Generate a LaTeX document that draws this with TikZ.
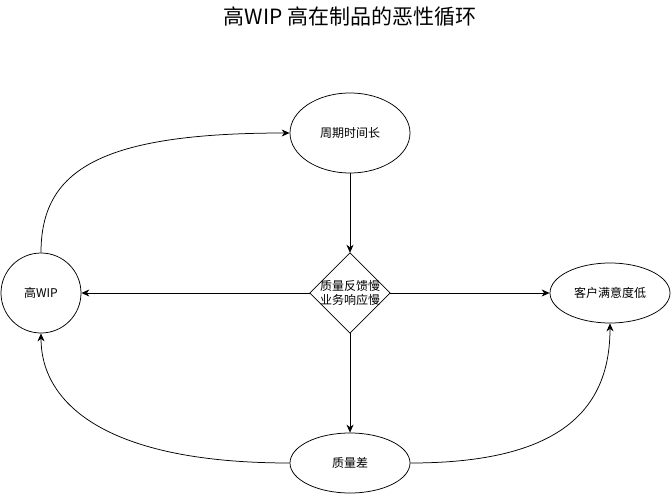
\documentclass[tikz,border=0pt]{standalone}
\usepackage{fontspec}
\newfontfamily\cjk{Noto Sans CJK SC}
\usetikzlibrary{arrows.meta,shapes.geometric}
\begin{document}
\begin{tikzpicture}[x=1pt,y=-1pt,
  every node/.style={font=\cjk\fontsize{12}{14}\selectfont},
  oval/.style={draw,ellipse,inner sep=0pt,minimum width=120pt,minimum height=#1},
  circ/.style={draw,circle,inner sep=0pt,minimum size=80pt},
  dbox/.style={rectangle,inner sep=0pt,minimum size=80pt,align=center},
  arr/.style={draw,line width=0.75pt,-{Stealth[length=8pt,width=7pt,inset=2.5pt]}},
  lnk/.style={line width=0.75pt}]
\useasboundingbox (0,0) rectangle (671,494);
\node[font=\cjk\fontsize{21}{24}\selectfont] (title) at (350,17) {高WIP 高在制品的恶性循环};
\node[circ,lnk] (w) at (41,293) {高WIP};
\node[oval=80pt,lnk] (c) at (350,133) {周期时间长};
\node[dbox] (d) at (350,293) {质量反馈慢\\业务响应慢};
\draw[lnk] (d.north) -- (d.east) -- (d.south) -- (d.west) -- cycle;
\node[oval=60pt,lnk] (s) at (610,293) {客户满意度低};
\node[oval=60pt,lnk] (q) at (350,463) {质量差};
\draw[arr] (c.south) -- (d.north);
\draw[arr] (d.west) -- (w.east);
\draw[arr] (d.east) -- (s.west);
\draw[arr] (d.south) -- (q.north);
\draw[arr] (w.north) .. controls (41,170) and (100,133) .. (c.west);
\draw[arr] (q.west) .. controls (100,463) and (41,400) .. (w.south);
\draw[arr] (q.east) .. controls (560,463) and (610,410) .. (s.south);
\end{tikzpicture}
\end{document}
